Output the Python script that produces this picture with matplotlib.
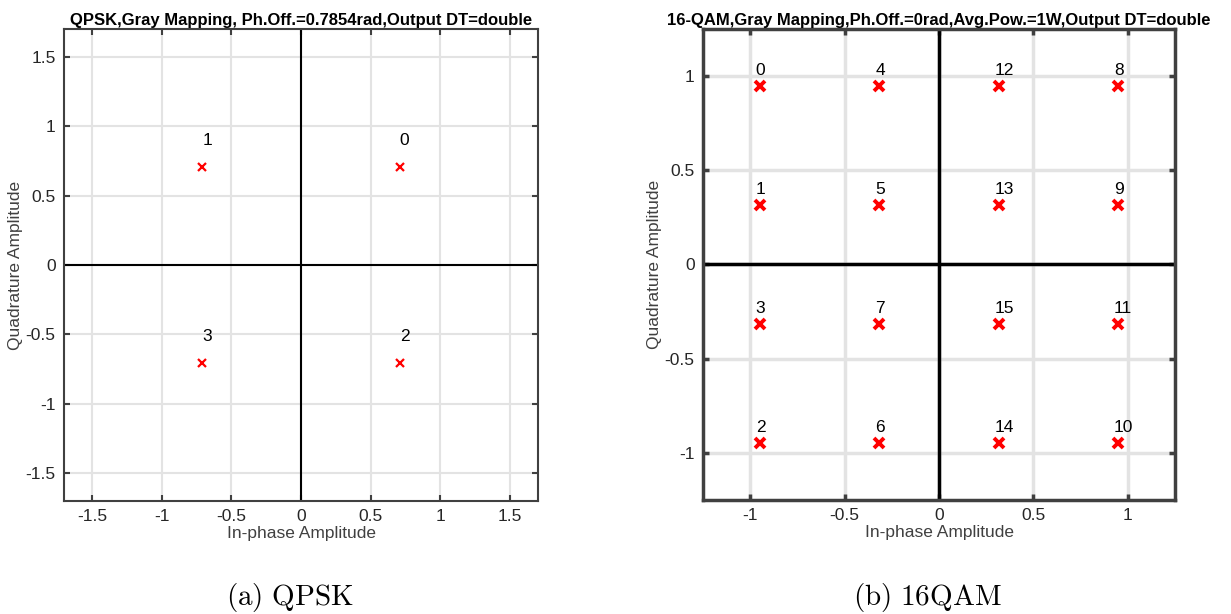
import numpy as np
import matplotlib
matplotlib.use('Agg')
import matplotlib.pyplot as plt

plt.rcParams['font.family'] = ['Liberation Sans', 'DejaVu Sans']
plt.rcParams['mathtext.fontset'] = 'cm'

# QPSK constellation (gray mapping, pi/4 offset)
qpsk_i = [0.7071, -0.7071, -0.7071, 0.7071]
qpsk_q = [0.7071, 0.7071, -0.7071, -0.7071]
qpsk_sym = ['0', '1', '3', '2']

# 16-QAM constellation (gray mapping, unit average power)
qam_i = [-0.9487, -0.3162, 0.3162, 0.9487] * 4
qam_q = [0.9487] * 4 + [0.3162] * 4 + [-0.3162] * 4 + [-0.9487] * 4
qam_sym = ['0', '4', '12', '8',
           '1', '5', '13', '9',
           '3', '7', '15', '11',
           '2', '6', '14', '10']

qpsk_ticks = [-1.5, -1, -0.5, 0, 0.5, 1, 1.5]
qam_ticks = [-1, -0.5, 0, 0.5, 1]

GRAY = '#262626'


def style_axes(ax, lim, ticks, spine_w, zero_w, grid_w):
    ax.set_xlim(-lim, lim)
    ax.set_ylim(-lim, lim)
    ax.set_xticks(ticks)
    ax.set_yticks(ticks)
    ax.set_xticklabels([f'{t:g}' for t in ticks])
    ax.set_yticklabels([f'{t:g}' for t in ticks])
    ax.grid(True, color='#e3e3e3', lw=grid_w, zorder=0)
    ax.set_axisbelow(True)
    for s in ax.spines.values():
        s.set_linewidth(spine_w)
        s.set_color('#404040')
    ax.tick_params(direction='in', top=True, right=True, length=4,
                   width=spine_w, color='#404040', labelsize=12.5,
                   labelcolor=GRAY, pad=6)
    ax.axhline(0, color='black', lw=zero_w, zorder=1)
    ax.axvline(0, color='black', lw=zero_w, zorder=1)
    ax.set_xlabel('In-phase Amplitude', fontsize=12.5, color='#404040', labelpad=1)
    ax.set_ylabel('Quadrature Amplitude', fontsize=12.5, color='#404040', labelpad=2)


fig = plt.figure(figsize=(12.31, 6.14), dpi=100)
ax1 = fig.add_axes([0.0520, 0.1840, 0.3851, 0.7688])
ax2 = fig.add_axes([0.5711, 0.1857, 0.3834, 0.7671])

style_axes(ax1, 1.7, qpsk_ticks, 1.5, 1.5, 1.5)
ax1.plot(qpsk_i, qpsk_q, 'x', color='red', ms=6, mew=1.6, zorder=3)
for x, y, s in zip(qpsk_i, qpsk_q, qpsk_sym):
    ax1.annotate(s, (x, y), xytext=(0, 19), textcoords='offset points',
                 ha='left', va='center', fontsize=12.5)
ax1.set_title('QPSK,Gray Mapping, Ph.Off.=0.7854rad,Output DT=double',
              fontsize=12, fontweight='bold', pad=3)

style_axes(ax2, 1.25, qam_ticks, 2.5, 2.5, 2.5)
ax2.plot(qam_i, qam_q, 'x', color='red', ms=7, mew=2.8, zorder=3)
for x, y, s in zip(qam_i, qam_q, qam_sym):
    ax2.annotate(s, (x, y), xytext=(-3, 11), textcoords='offset points',
                 ha='left', va='center', fontsize=12.5)
ax2.set_title('16-QAM,Gray Mapping,Ph.Off.=0rad,Avg.Pow.=1W,Output DT=double',
              fontsize=12, fontweight='bold', pad=3)

fig.text(290 / 1231, 1 - 597 / 614, r'$\mathrm{(a)\ QPSK}$', fontsize=21,
         ha='center', va='center')
fig.text(927 / 1231, 1 - 597 / 614, r'$\mathrm{(b)\ 16QAM}$', fontsize=21,
         ha='center', va='center')

fig.savefig('out.png', dpi=100)
